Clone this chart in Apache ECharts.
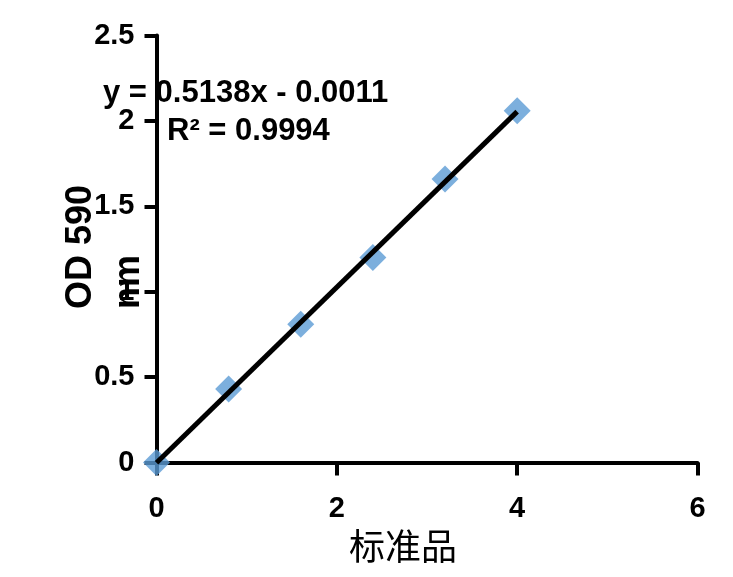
<!DOCTYPE html>
<html>
<head>
<meta charset="utf-8">
<script src="https://cdn.jsdelivr.net/npm/echarts@6/dist/echarts.min.js"></script>
<style>
html,body{margin:0;padding:0;background:#fff;}
#chart{width:733px;height:577px;}
</style>
</head>
<body>
<div id="chart"></div>
<script>
// Data
var standardX = [0, 0.8, 1.6, 2.4, 3.2, 4];
var od590 = [0, 0.43, 0.81, 1.2, 1.66, 2.06];
var trendX = [0, 4];
var trendY = [-0.0011, 2.0541];
var xTicks = [0, 2, 4, 6];
var yTicks = [0, 0.5, 1, 1.5, 2, 2.5];
var equationText = 'y = 0.5138x - 0.0011';
var r2Text = 'R\u00b2 = 0.9994';
var xTitle = '标准品';
var yTitle = 'OD 590\nnm';

var chart = echarts.init(document.getElementById('chart'), null, {renderer: 'canvas'});
var font = 'Liberation Sans, Arial, sans-serif';

var points = standardX.map(function (x, i) { return [x, od590[i]]; });
var trend = trendX.map(function (x, i) { return [x, trendY[i]]; });

chart.setOption({
  animation: false,
  backgroundColor: '#ffffff',
  grid: {left: 156.5, right: 35.5, top: 35.5, bottom: 114.5, containLabel: false},
  xAxis: {
    type: 'value', min: xTicks[0], max: xTicks[xTicks.length - 1], interval: 2,
    splitLine: {show: false},
    axisLine: {show: true, onZero: false, lineStyle: {color: '#000', width: 4}},
    axisTick: {show: true, inside: false, length: 13, lineStyle: {color: '#000', width: 4}},
    axisLabel: {color: '#000', fontFamily: font, fontWeight: 'bold', fontSize: 29, margin: 32},
    name: xTitle, nameLocation: 'middle', nameGap: 64,
    nameTextStyle: {color: '#000', fontFamily: 'Noto Sans CJK SC', fontSize: 36, fontWeight: 'normal', padding: [0, 48, 0, 0]}
  },
  yAxis: {
    type: 'value', min: yTicks[0], max: yTicks[yTicks.length - 1], interval: 0.5,
    splitLine: {show: false},
    axisLine: {show: true, onZero: false, lineStyle: {color: '#000', width: 4}},
    axisTick: {show: true, inside: false, length: 12, lineStyle: {color: '#000', width: 4}},
    axisLabel: {color: '#000', fontFamily: font, fontWeight: 'bold', fontSize: 29, margin: 22}
  },
  series: [
    {
      type: 'scatter', data: points, symbol: 'diamond', symbolSize: 27,
      itemStyle: {color: '#5b9bd5'}, clip: false, z: 2
    },
    {
      type: 'line', data: trend, symbol: 'none', clip: false,
      lineStyle: {color: '#000', width: 5}, z: 3
    }
  ],
  graphic: [
    {
      type: 'text', x: 103, y: 93, z: 10,
      style: {text: equationText, fill: '#000', font: 'bold 31px ' + font, verticalAlign: 'middle', align: 'left'}
    },
    {
      type: 'text', x: 167, y: 131, z: 10,
      style: {text: r2Text, fill: '#000', font: 'bold 31px ' + font, verticalAlign: 'middle', align: 'left'}
    },
    {
      type: 'text', x: 57, y: 309, rotation: Math.PI / 2, z: 10,
      style: {text: yTitle, fill: '#000', font: 'bold 36px ' + font, lineHeight: 48, verticalAlign: 'top', align: 'left'}
    }
  ]
});
</script>
</body>
</html>
